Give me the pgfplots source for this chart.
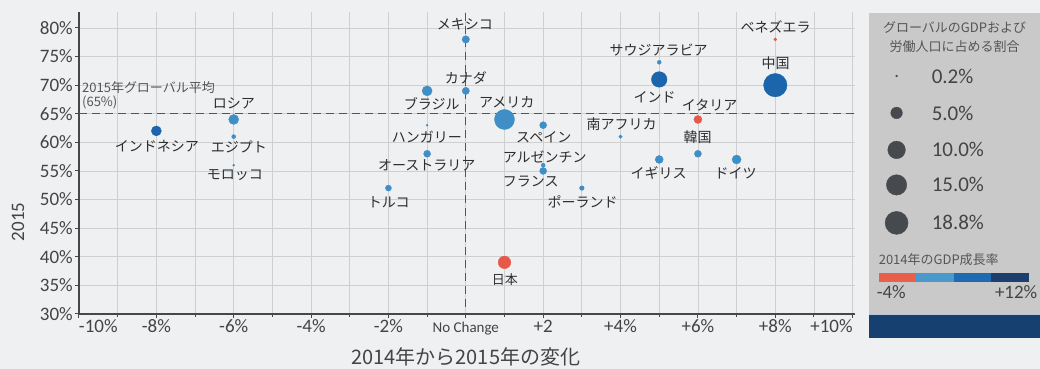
\documentclass[border=0pt]{standalone}
\usepackage{fontspec}
\setmainfont{Carlito}
\newfontfamily\jp{Noto Sans CJK JP}
\usepackage{pgfplots}
\usepackage{pgfplotstable}
\pgfplotsset{compat=1.18}
\definecolor{bg}{HTML}{EFF0F2}
\definecolor{panel}{HTML}{C9C9C9}
\definecolor{navy}{HTML}{15406F}
\definecolor{gridc}{HTML}{CFCFCF}
\definecolor{axc}{HTML}{45474B}
\definecolor{tc}{HTML}{444444}
\definecolor{lab}{HTML}{2E2E2E}
\definecolor{dashc}{HTML}{555555}
\definecolor{legc}{HTML}{46494E}
\definecolor{cred}{HTML}{E8604C}
\definecolor{clb}{HTML}{4A98CC}
\definecolor{cmb}{HTML}{1F6AB0}
\definecolor{cnv}{HTML}{1D3F6E}
\definecolor{pred}{RGB}{229,88,74}
\definecolor{plb}{RGB}{63,142,198}
\definecolor{pdb}{RGB}{28,101,173}
\pgfplotstableread{
x y r
6 64 4
8 78 1.5
1 39 6.3
}\redpts
\pgfplotstableread{
x y r
-6 64 5
-6 61 2
-6 56 1
0 78 3.7
0 69 3.6
-1 69 5
-1 63 1
-1 58 3.5
-2 52 3
1 64 10
2 63 3.5
2 56 2
2 55 3.5
3 52 2.3
4 61 1.7
5 74 2
5 57 4
6 58 3.5
7 57 4.5
}\bluepts
\pgfplotstableread{
x y r
-8 62 5
5 71 7.8
8 70 11.7
}\darkpts
\pgfplotsset{bubble/.style={only marks, mark=*, draw=#1, fill=#1,
  visualization depends on={\thisrow{r}\as\rad},
  scatter, scatter/use mapped color={draw=#1, fill=#1},
  scatter/@pre marker code/.append style={/tikz/mark size=\rad pt}}}
\begin{document}
\begin{tikzpicture}[x=1pt,y=1pt]
\fill[bg] (0,0) rectangle (1040,369);
\fill[panel] (869,55) rectangle (1040,356);
\fill[navy] (869,31) rectangle (1040,54);
\draw[line width=1pt, draw=white!70!navy] (869,54.5) -- (1040,54.5);
\begin{axis}[
  at={(79pt,55pt)}, anchor=south west, scale only axis,
  width=776pt, height=302pt,
  xmin=-10, xmax=10.05, ymin=30, ymax=82.8,
  xtick={-10,-8,...,10}, minor xtick={-9,-7,...,9},
  xticklabels={{\makebox[0pt][l]{-10\%}},-8\%,-6\%,-4\%,-2\%,{\fontsize{15}{16}\selectfont No Change},+2,+4\%,+6\%,+8\%,{\makebox[0pt][r]{+10\%}}},
  ytick={30,35,...,80},
  yticklabels={30\%,35\%,40\%,45\%,50\%,55\%,60\%,65\%,70\%,75\%,80\%},
  grid=both, grid style={draw=gridc, line width=0.8pt},
  minor grid style={draw=gridc, line width=0.8pt},
  axis x line*=bottom, axis y line*=left,
  axis line style={line width=2.2pt, draw=axc},
  tick align=outside, major tick length=4pt, minor tick length=3pt,
  tick style={draw=axc, line width=1pt},
  ticklabel style={font=\fontsize{19}{20}\selectfont, text=tc},
  xticklabel style={text height=12pt, text depth=3pt, inner sep=2pt},
  yticklabel style={inner sep=2pt},
  clip=false,
]
\addplot[draw=dashc, line width=1pt, dash pattern=on 8pt off 5pt, forget plot] coordinates {(-10,65) (10.05,65)};
\addplot[draw=dashc, line width=1pt, dash pattern=on 8pt off 5pt, forget plot] coordinates {(0,31.2) (0,82.8)};
\addplot[bubble=plb] table[x=x, y=y] {\bluepts};
\addplot[bubble=pred] table[x=x, y=y] {\redpts};
\addplot[bubble=pdb] table[x=x, y=y] {\darkpts};
\end{axis}
\begin{axis}[
  at={(869pt,0pt)}, anchor=south west, scale only axis,
  width=171pt, height=369pt,
  xmin=869, xmax=1040, ymin=0, ymax=369, hide axis, clip=false]
\addplot[only marks, mark=*, mark size=1pt, color=legc] coordinates {(897,293)};
\addplot[only marks, mark=*, mark size=5.8pt, color=legc] coordinates {(897,256)};
\addplot[only marks, mark=*, mark size=8.8pt, color=legc] coordinates {(897,219)};
\addplot[only marks, mark=*, mark size=10.2pt, color=legc] coordinates {(897,184)};
\addplot[only marks, mark=*, mark size=11.5pt, color=legc] coordinates {(897,146)};
\end{axis}
% labels
\begin{scope}[every node/.style={font=\jp\fontsize{14}{16}\selectfont, text=lab, inner sep=0pt}]
\node at (234,266) {ロシア};
\node at (157,223) {インドネシア};
\node at (239,222) {エジプト};
\node at (235,194) {モロッコ};
\node at (465,345) {メキシコ};
\node at (466,291) {カナダ};
\node at (432,265) {ブラジル};
\node at (507,267) {アメリカ};
\node at (427,232) {ハンガリー};
\node at (544,232) {スペイン};
\node at (622,245) {南アフリカ};
\node at (545,212) {アルゼンチン};
\node at (427,204) {オーストラリア};
\node at (659,196) {イギリス};
\node at (531,187) {フランス};
\node at (389,167) {トルコ};
\node at (583,167) {ポーランド};
\node[font=\jp\fontsize{13}{15}\selectfont] at (505,89) {日本};
\node at (659,319) {サウジアラビア};
\node at (655,272) {インド};
\node at (710,264) {イタリア};
\node at (698,232) {韓国};
\node at (736,196) {ドイツ};
\node at (776,342) {ベネズエラ};
\node at (776,306) {中国};
\end{scope}
\node[anchor=west, inner sep=0pt, font=\jp\fontsize{13}{15}\selectfont, text=dashc] at (82,281) {2015年グローバル平均};
\node[anchor=west, inner sep=0pt, font=\jp\fontsize{13}{15}\selectfont, text=dashc] at (82,266) {(65\%)};
% axis titles
\node[rotate=90, inner sep=0pt, font=\fontsize{19}{20}\selectfont, text=tc] at (18,147) {2015};
\node[inner sep=0pt, font=\jp\fontsize{20}{22}\selectfont, text=tc] at (466,12) {2014年から2015年の変化};
% legend text
\node[inner sep=0pt, font=\jp\fontsize{13}{15}\selectfont, text=dashc] at (955,341) {グローバルのGDPおよび};
\node[inner sep=0pt, font=\jp\fontsize{13}{15}\selectfont, text=dashc] at (955,322) {労働人口に占める割合};
\begin{scope}[every node/.style={anchor=west, inner sep=0pt, font=\fontsize{21}{22}\selectfont, text=tc}]
\node at (932,293) {0.2\%};
\node at (932,256) {5.0\%};
\node at (932,219) {10.0\%};
\node at (932,184) {15.0\%};
\node at (932,146) {18.8\%};
\end{scope}
\node[anchor=west, inner sep=0pt, font=\jp\fontsize{13}{15}\selectfont, text=dashc] at (879,109) {2014年のGDP成長率};
\fill[cred] (879,87) rectangle (916.5,96);
\fill[clb] (916.5,87) rectangle (954,96);
\fill[cmb] (954,87) rectangle (991.5,96);
\fill[cnv] (991.5,87) rectangle (1029,96);
\node[anchor=west, inner sep=0pt, font=\fontsize{19}{20}\selectfont, text=tc] at (877,77) {-4\%};
\node[anchor=east, inner sep=0pt, font=\fontsize{19}{20}\selectfont, text=tc] at (1038,77) {+12\%};
\end{tikzpicture}
\end{document}
